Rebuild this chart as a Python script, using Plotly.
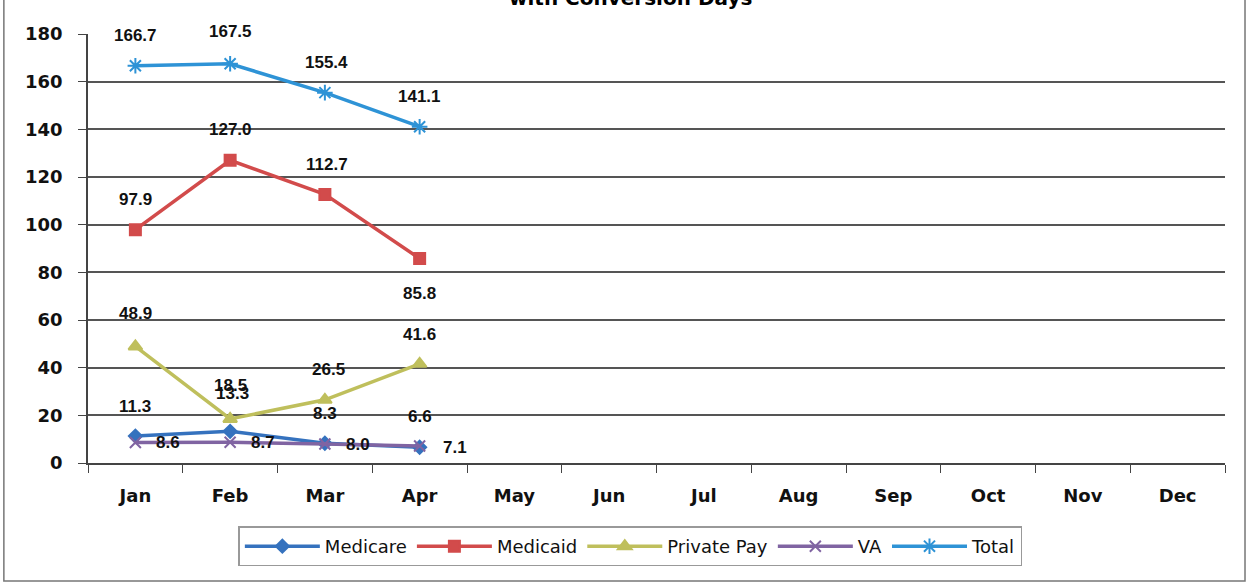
import plotly.graph_objects as go

months = ["Jan", "Feb", "Mar", "Apr", "May", "Jun", "Jul", "Aug", "Sep", "Oct", "Nov", "Dec"]
data_months = ["Jan", "Feb", "Mar", "Apr"]
medicare = [11.3, 13.3, 8.3, 6.6]
medicaid = [97.9, 127.0, 112.7, 85.8]
private_pay = [48.9, 18.5, 26.5, 41.6]
va = [8.6, 8.7, 8.0, 7.1]
total = [166.7, 167.5, 155.4, 141.1]
y_ticks = [0, 20, 40, 60, 80, 100, 120, 140, 160, 180]

label_font = dict(family="Liberation Sans", size=17, color="#111111", weight="bold")

# (name, values, color, symbol, size, label offsets (xshift, yshift) per point)
series = [
    ("Medicare", medicare, "#3572BE", "diamond", 10, [(0, 30), (2, 38), (0, 30), (0, 31)]),
    ("Medicaid", medicaid, "#D24B4B", "square", 11, [(0, 30), (0, 31), (2, 30), (0, -35)]),
    ("Private Pay", private_pay, "#BFBF5C", "triangle-up", 12, [(0, 33), (0, 33), (4, 30), (0, 29)]),
    ("VA", va, "#8064A2", "x-thin-open", 11, [(33, 0), (33, 0), (33, -1), (35, -1)]),
    ("Total", total, "#2E93D6", "asterisk-open", 13, [(0, 30), (0, 32), (2, 30), (0, 30)]),
]

fig = go.Figure()
annotations = []
for name, vals, color, sym, size, offs in series:
    fig.add_trace(go.Scatter(
        x=data_months, y=vals, name=name, mode="lines+markers",
        line=dict(color=color, width=3.5),
        marker=dict(symbol=sym, size=size, color=color, line=dict(color=color, width=2)),
        cliponaxis=False,
    ))
    for m, v, (dx, dy) in zip(data_months, vals, offs):
        annotations.append(dict(x=m, y=v, xref="x", yref="y", text=f"{v:.1f}",
                                showarrow=False, xshift=dx, yshift=dy,
                                xanchor="center", yanchor="middle", font=label_font))

annotations.append(dict(text="<b>with Conversion Days</b>", xref="paper", yref="paper",
                        x=0.477, y=1.084, xanchor="center", yanchor="middle", showarrow=False,
                        font=dict(family="DejaVu Sans", size=20, color="black")))

tick_font = dict(family="DejaVu Sans", size=18, color="#111111", weight="bold")

fig.update_layout(
    width=1249, height=584,
    margin=dict(l=88, r=24, t=34, b=121),
    paper_bgcolor="white", plot_bgcolor="white",
    showlegend=True,
    legend=dict(orientation="h", x=0.477, xanchor="center", y=-0.148, yanchor="top",
                bordercolor="#999999", borderwidth=1.5,
                font=dict(family="DejaVu Sans", size=18, color="#111111"),
                itemwidth=75, tracegroupgap=0),
    xaxis=dict(type="category", categoryorder="array", categoryarray=months,
               range=[-0.5, 11.5], showgrid=False, showline=True,
               linecolor="#444444", linewidth=1.5, ticks="outside", ticklen=8,
               tickcolor="#444444", tickson="boundaries", tickfont=tick_font,
               ticklabelstandoff=16),
    yaxis=dict(range=[0, 180], tickvals=y_ticks, showgrid=True, gridcolor="#555555",
               gridwidth=1.5, showline=True, linecolor="#444444", linewidth=1.5,
               ticks="outside", ticklen=8, tickcolor="#444444", zeroline=False,
               tickfont=tick_font, ticklabelstandoff=12),
    annotations=annotations,
    shapes=[dict(type="rect", xref="paper", yref="paper",
                 x0=-0.074, x1=1.0176, y0=-0.275, y1=1.2,
                 line=dict(color="#777777", width=1.5), fillcolor="rgba(0,0,0,0)", layer="below")],
)

fig.write_html("out.html", config={"displayModeBar": False},
               post_script="document.body.style.margin='0';document.body.style.overflow='hidden';")
